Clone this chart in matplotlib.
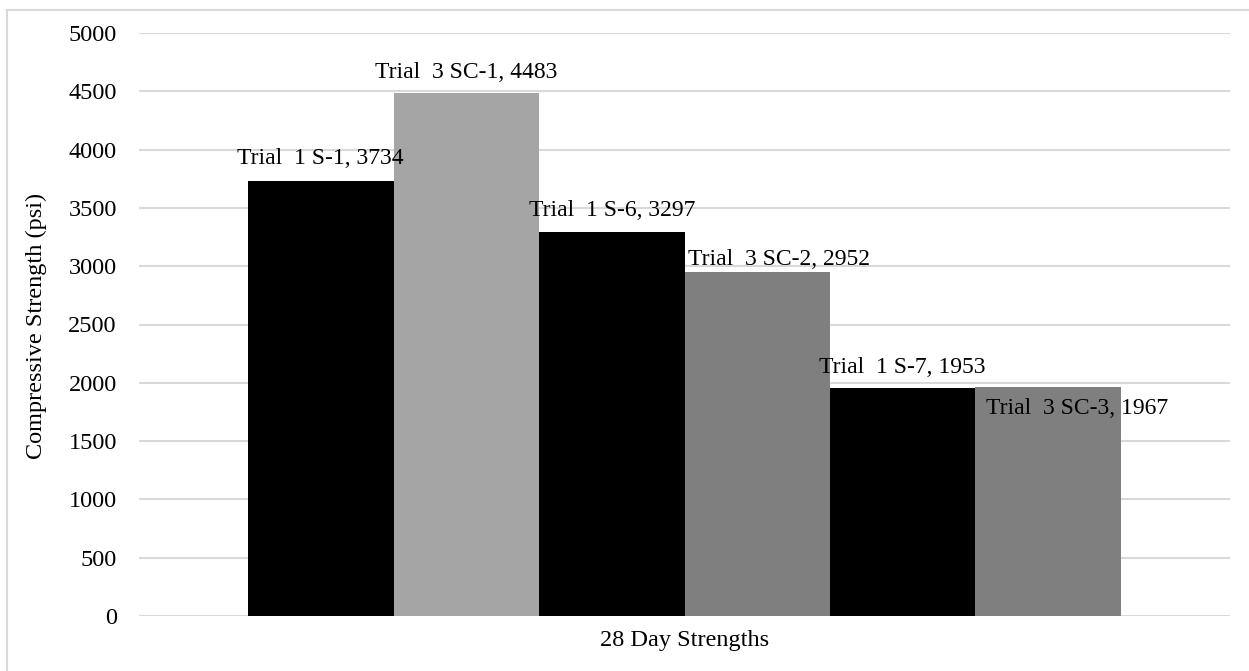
import matplotlib
matplotlib.use("Agg")
import matplotlib.pyplot as plt
from matplotlib.lines import Line2D
import numpy as np

plt.rcParams['font.family'] = ['Liberation Serif', 'DejaVu Serif']

category = "28 Day Strengths"
series_names = ["Trial  1 S-1", "Trial  3 SC-1", "Trial  1 S-6",
                "Trial  3 SC-2", "Trial  1 S-7", "Trial  3 SC-3"]
values = [3734, 4483, 3297, 2952, 1953, 1967]
colors = ["#000000", "#A5A5A5", "#000000", "#7F7F7F", "#000000", "#7F7F7F"]
# label offsets (pixels) relative to bar top
label_offsets = [(0, 22), (0, 21), (0, 21), (22, 12), (0, 21), (29, -22)]
yticks = [0, 500, 1000, 1500, 2000, 2500, 3000, 3500, 4000, 4500, 5000]

W, H = 1249, 671
fig = plt.figure(figsize=(W / 100, H / 100), dpi=100)
ax = fig.add_axes([139 / W, (H - 616) / H, 1091 / W, 583 / H])

n = len(values)
group_width = 1.0
bw = group_width / n
xs = np.arange(n) * bw - group_width / 2 + bw / 2
bars = ax.bar(xs, values, width=bw, color=colors, zorder=3, linewidth=0)

ax.set_xlim(-0.6249, 0.6249)
ax.set_ylim(0, 5000)
ax.set_yticks(yticks)
ax.set_yticklabels([str(t) for t in yticks], fontsize=17.5)
ax.set_xticks([0])
ax.set_xticklabels([category], fontsize=17.5)
ax.tick_params(axis='both', length=0)
ax.tick_params(axis='y', pad=16)
ax.tick_params(axis='x', pad=10)
for s in ax.spines.values():
    s.set_visible(False)
ax.grid(axis='y', color='#D9D9D9', linewidth=1.5, zorder=0)
ax.set_ylabel("Compressive Strength (psi)", fontsize=17.5)
ax.yaxis.set_label_coords((47 - 139) / 1091, 0.497)

for x, v, name, (dx, dy) in zip(xs, values, series_names, label_offsets):
    ax.annotate(f"{name}, {v}", xy=(x, v), xytext=(dx, dy),
                textcoords='offset pixels', ha='center', va='center',
                fontsize=17, zorder=5)

# outer border (chart area)
fig.add_artist(Line2D([7 / W, 7 / W], [0, 1 - 9.5 / H], transform=fig.transFigure,
                      color='#D9D9D9', linewidth=1.5))
fig.add_artist(Line2D([7 / W, 1], [1 - 9.5 / H, 1 - 9.5 / H], transform=fig.transFigure,
                      color='#D9D9D9', linewidth=1.5))

fig.savefig("out.png", dpi=100, facecolor='white')
